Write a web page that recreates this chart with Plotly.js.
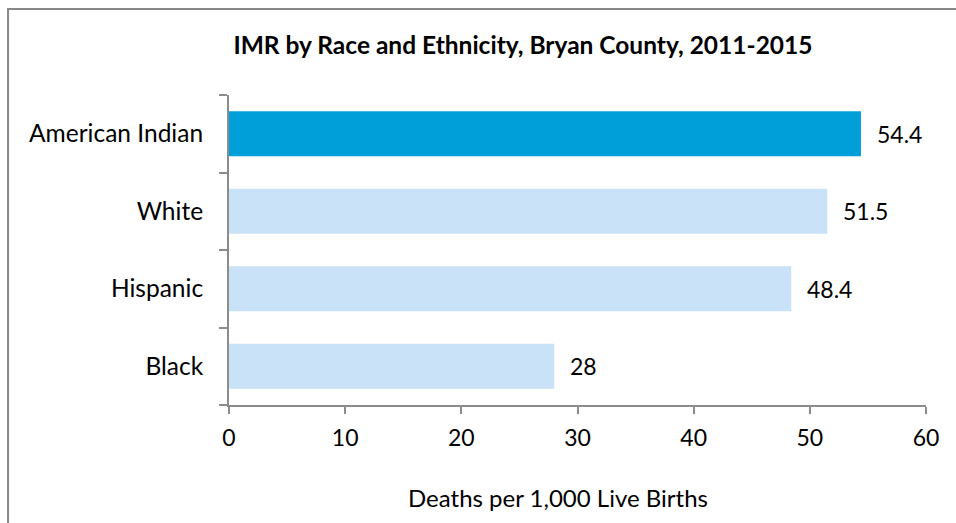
<!DOCTYPE html>
<html>
<head>
<meta charset="utf-8">
<script src="https://cdn.plot.ly/plotly-3.0.1.min.js"></script>
<style>
html,body{margin:0;padding:0;background:#fff;}
#chart{width:956px;height:523px;}
</style>
</head>
<body>
<div id="chart"></div>
<script>
var categories = ["Black", "Hispanic", "White", "American Indian"];
var values = [28, 48.4, 51.5, 54.4];
var labels = ["28", "48.4", "51.5", "54.4"];
var barColors = ["#C9E2F8", "#C9E2F8", "#C9E2F8", "#009FDA"];
var xTicks = [0, 10, 20, 30, 40, 50, 60];
var xTitle = "Deaths per 1,000 Live Births";

var FONT = "Lato, 'Open Sans', sans-serif";

var trace = {
  type: "bar",
  orientation: "h",
  y: categories,
  x: values,
  marker: {color: barColors},
  width: 0.58,
  hoverinfo: "x+y"
};

var annotations = categories.map(function(c, i){
  return {x: values[i], y: c, xref: "x", yref: "y", text: labels[i],
    showarrow: false, xanchor: "left", xshift: 14,
    font: {family: FONT, size: 23, color: "#000"}};
});
annotations.push({x: 0.472, y: 497, xref: "paper", yref: "paper", text: xTitle,
  showarrow: false, xanchor: "center", yanchor: "middle",
  font: {family: FONT, size: 24, color: "#000"}});
// convert the pixel y for axis title to paper coords
annotations[annotations.length - 1].y = (523 - 118 - 497) / 310;

var layout = {
  width: 956, height: 523,
  margin: {l: 229, r: 30, t: 95, b: 118},
  paper_bgcolor: "#fff", plot_bgcolor: "#fff",
  showlegend: false,
  title: {text: "<b>IMR by Race and Ethnicity, Bryan County, 2011-2015</b>",
    x: 0.547, xanchor: "center", y: 0.914, yanchor: "middle",
    font: {family: FONT, size: 24.5, color: "#000"}},
  xaxis: {
    range: [0, 60], tickvals: xTicks, ticktext: xTicks.map(String),
    showgrid: false, zeroline: false, showline: true,
    linecolor: "#8C8C8C", linewidth: 2,
    ticks: "outside", ticklen: 7, tickwidth: 2, tickcolor: "#8C8C8C",
    tickfont: {family: FONT, size: 23, color: "#000"},
    ticklabelstandoff: 4,
    fixedrange: true
  },
  yaxis: {
    type: "category", range: [-0.5, 3.5],
    showgrid: false, zeroline: false, showline: true,
    linecolor: "#8C8C8C", linewidth: 2,
    ticks: "outside", tickson: "boundaries", ticklen: 8, tickwidth: 2, tickcolor: "#8C8C8C",
    tickfont: {family: FONT, size: 24.5, color: "#000"},
    ticklabelstandoff: 19,
    fixedrange: true
  },
  annotations: annotations,
  shapes: [{type: "rect", xref: "paper", yref: "paper",
    x0: -0.317, x1: 1.2, y0: -1, y1: 1.2774,
    line: {color: "#888", width: 2}, layer: "below"}]
};

Plotly.newPlot("chart", [trace], layout, {displayModeBar: false, staticPlot: true});
</script>
</body>
</html>
